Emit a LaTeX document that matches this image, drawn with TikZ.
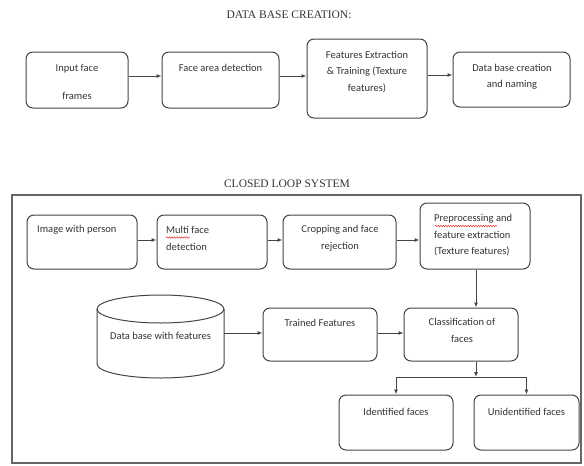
\documentclass[tikz,border=0pt]{standalone}
\usepackage{fontspec}
\setmainfont{Carlito}
\newfontfamily\titlefont{Liberation Serif}
\usetikzlibrary{arrows.meta,decorations.pathmorphing}
\definecolor{boxgray}{HTML}{444444}
\definecolor{framegray}{HTML}{666666}
\definecolor{txtgray}{HTML}{333333}
\definecolor{spellred}{HTML}{E03030}

\begin{document}
\begin{tikzpicture}[x=1pt,y=-1pt,
  box/.style={draw=boxgray, line width=1pt, rounded corners=7pt, inner sep=0pt},
  ln/.style={draw=boxgray, line width=1pt},
  arr/.style={ln, -{Latex[length=5pt,width=4pt]}},
  txt/.style={inner sep=0pt, font=\fontsize{10.5}{16.5}\selectfont, text=txtgray, align=center},
  ltxt/.style={txt, align=left},
  heading/.style={inner sep=0pt, font=\titlefont\fontsize{11.5}{13}\selectfont, text=txtgray},
  squiggle/.style={draw=spellred, line width=0.5pt,
    decorate, decoration={snake, amplitude=0.7pt, segment length=2.5pt}}]

\useasboundingbox (0,0) rectangle (584,466);

% ---------- data base creation ----------
\node[heading] (h1) at (289,15) {DATA BASE CREATION:};

\node[box, minimum width=102pt, minimum height=56pt] (b1) at (77,80) {};
\node[box, minimum width=117pt, minimum height=56pt] (b2) at (220.5,80) {};
\node[box, minimum width=120pt, minimum height=79pt] (b3) at (367,78.5) {};
\node[box, minimum width=117pt, minimum height=55pt] (b4) at (511.5,79.5) {};

\node[txt] (t1) at (77,82) {Input face\\[11.5pt]frames};
\node[txt] (t2) at (220.5,68) {Face area detection};
\node[txt] (t3) at (367,72) {Features Extraction\\\& Training (Texture\\features)};
\node[txt] (t4) at (512,77) {Data base creation\\and naming};

\draw[arr] ([yshift=4pt]b1.east) -- ([yshift=4pt]b2.west);
\draw[arr] ([yshift=4pt]b2.east) -- ([yshift=4pt]b2.east -| b3.west);
\draw[arr] ([yshift=4.5pt]b4.west -| b3.east) -- ([yshift=4.5pt]b4.west);

% ---------- closed loop system ----------
\node[heading] (h2) at (287,184) {CLOSED LOOP SYSTEM};
\draw[draw=framegray, line width=1.1pt] (12,195) rectangle (581,463);

\node[box, minimum width=110pt, minimum height=54pt] (nA) at (82,242) {};
\node[box, minimum width=110pt, minimum height=54pt] (nB) at (212,242) {};
\node[box, minimum width=113pt, minimum height=54pt] (nC) at (339.5,242) {};
\node[box, minimum width=110pt, minimum height=66pt] (nD) at (475,236) {};

\node[ltxt, anchor=west] (tA) at (37,230) {Image with person};
\node[ltxt, anchor=west] (tB) at (166,238.5) {Multi face\\detection};
\node[txt] (tC) at (340,238.5) {Cropping and face\\rejection};
\node[ltxt, anchor=west] (tD) at (434,235.5) {Preprocessing and\\feature extraction\\(Texture features)};

\draw[squiggle] (166,237.5) -- (190,237.5);
\draw[squiggle] (435,226) -- (497,226);

\draw[arr] ([yshift=2pt]nA.east) -- ([yshift=2pt]nB.west);
\draw[arr] ([yshift=2pt]nB.east) -- ([yshift=2pt]nC.west);
\draw[arr] ([yshift=2pt]nC.east) -- ([yshift=2pt]nC.east -| nD.west);

% database cylinder: an invisible anchor node, the drawn outline, and its label
\node[inner sep=0pt, minimum width=127pt, minimum height=83pt] (db) at (160.5,336.5) {};
\draw[ln] (97,309) -- (97,364)
  arc[start angle=180, end angle=360, x radius=63.5pt, y radius=14pt] -- (224,309);
\draw[ln] (160.5,309) ellipse[x radius=63.5pt, y radius=14pt];
\node[txt] (tdb) at (160.5,336) {Data base with features};

\node[box, minimum width=114pt, minimum height=53pt] (tf) at (320,334.5) {};
\node[box, minimum width=114pt, minimum height=53pt] (cl) at (461,334.5) {};
\node[txt] (ttf) at (320,323) {Trained Features};
\node[txt] (tcl) at (462,330.5) {Classification of\\faces};

\node[box, minimum width=114pt, minimum height=55pt] (idf) at (396,422.5) {};
\node[box, minimum width=105pt, minimum height=55pt] (unf) at (526.5,422.5) {};
\node[txt] (tidf) at (396,412) {Identified faces};
\node[txt] (tunf) at (526.5,412) {Unidentified faces};

\coordinate (j) at (476,377);

\draw[arr] ([yshift=1.5pt]tf.west -| db.east) -- ([yshift=1.5pt]tf.west);
\draw[arr] ([yshift=1.5pt]tf.east) -- ([yshift=1.5pt]cl.west);
\draw[arr] (nD.south -| j) -- (cl.north -| j);
\draw[arr] (cl.south -| j) -- (j);
\draw[ln] (j -| idf.north) -- (j -| unf.north);
\draw[arr] (j -| idf.north) -- (idf.north);
\draw[arr] (j -| unf.north) -- (unf.north);
\end{tikzpicture}
\end{document}
